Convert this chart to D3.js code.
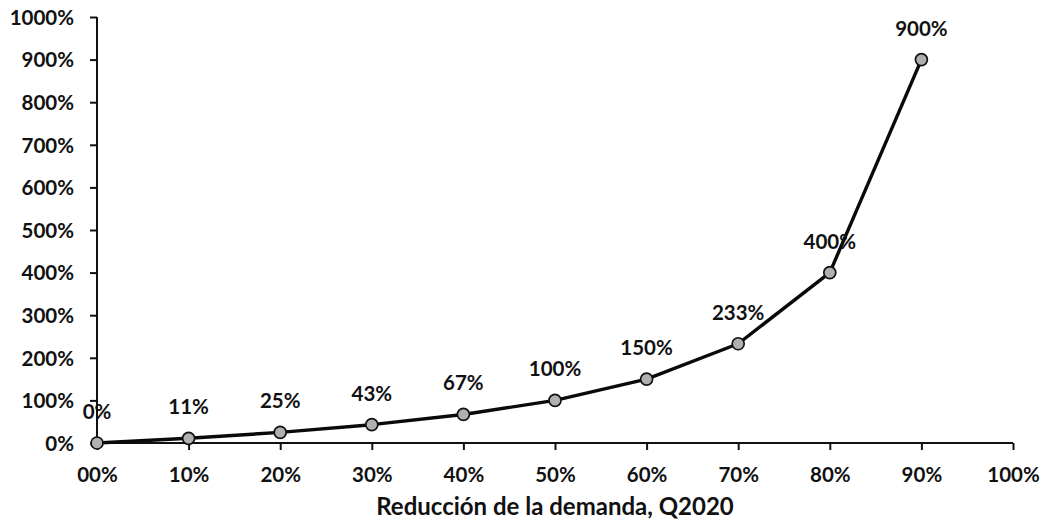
<!DOCTYPE html>
<html>
<head>
<meta charset="utf-8">
<script src="https://cdn.jsdelivr.net/npm/d3@7"></script>
<style>
  html, body { margin: 0; padding: 0; background: #fff; }
  svg { display: block; }
  text { font-family: Lato, "Open Sans", sans-serif; font-weight: bold; fill: #111; }
</style>
</head>
<body>
<svg id="chart" width="1043" height="523"></svg>
<script>
const reductions = [0, 10, 20, 30, 40, 50, 60, 70, 80, 90];
const increases = [0, 11, 25, 43, 67, 100, 150, 233, 400, 900];
const pointLabels = ["0%", "11%", "25%", "43%", "67%", "100%", "150%", "233%", "400%", "900%"];
const xTicks = [0, 10, 20, 30, 40, 50, 60, 70, 80, 90, 100];
const xTickLabels = ["00%", "10%", "20%", "30%", "40%", "50%", "60%", "70%", "80%", "90%", "100%"];
const yTicks = [0, 100, 200, 300, 400, 500, 600, 700, 800, 900, 1000];
const yTickLabels = ["0%", "100%", "200%", "300%", "400%", "500%", "600%", "700%", "800%", "900%", "1000%"];
const xTitle = "Reducción de la demanda, Q2020";

const svg = d3.select("#chart");
const mLeft = 97, mRight = 1013, mTop = 17, mBottom = 443;

const x = d3.scaleLinear().domain([0, 100]).range([mLeft, mRight]);
const y = d3.scaleLinear().domain([0, 1000]).range([mBottom, mTop]);

const fontSize = 20.5;

// X axis
const xAxis = d3.axisBottom(x).tickValues(xTicks).tickSize(7).tickPadding(0)
  .tickFormat((d, i) => xTickLabels[i]);
const gx = svg.append("g").attr("transform", `translate(0,${mBottom})`).call(xAxis);
gx.select(".domain").attr("stroke", "#111").attr("stroke-width", 2).attr("d", `M${mLeft},0H${mRight}`);
gx.selectAll(".tick line").attr("stroke", "#111").attr("stroke-width", 2);
gx.selectAll(".tick text").attr("y", 39).attr("dy", null)
  .attr("font-size", fontSize).attr("fill", "#111");

// Y axis
const yAxis = d3.axisLeft(y).tickValues(yTicks).tickSize(7).tickPadding(16)
  .tickFormat((d, i) => yTickLabels[i]);
const gy = svg.append("g").attr("transform", `translate(${mLeft},0)`).call(yAxis);
gy.select(".domain").attr("stroke", "#111").attr("stroke-width", 2).attr("d", `M0,${mBottom}V${mTop}`);
gy.selectAll(".tick line").attr("stroke", "#111").attr("stroke-width", 2);
gy.selectAll(".tick text").attr("font-size", fontSize).attr("fill", "#111")
  .attr("dy", "0.36em");
svg.selectAll(".domain").attr("fill", "none");

const data = reductions.map((r, i) => ({ x: r, y: increases[i], label: pointLabels[i] }));

// Line
const line = d3.line().x(d => x(d.x)).y(d => y(d.y));
svg.append("path").datum(data)
  .attr("d", line)
  .attr("fill", "none")
  .attr("stroke", "#0a0a0a")
  .attr("stroke-width", 3.4)
  .attr("stroke-linejoin", "round");

// Markers
svg.selectAll("circle.pt").data(data).enter().append("circle")
  .attr("class", "pt")
  .attr("cx", d => x(d.x)).attr("cy", d => y(d.y)).attr("r", 6)
  .attr("fill", "#b0b0b0").attr("stroke", "#111").attr("stroke-width", 1.7);

// Point labels
svg.selectAll("text.lbl").data(data).enter().append("text")
  .attr("class", "lbl")
  .attr("x", d => x(d.x)).attr("y", d => y(d.y) - 24)
  .attr("text-anchor", "middle")
  .attr("font-size", fontSize)
  .text(d => d.label);

// X title
svg.append("text")
  .attr("x", (mLeft + mRight) / 2).attr("y", 515)
  .attr("text-anchor", "middle")
  .attr("font-size", 24)
  .text(xTitle);
</script>
</body>
</html>
